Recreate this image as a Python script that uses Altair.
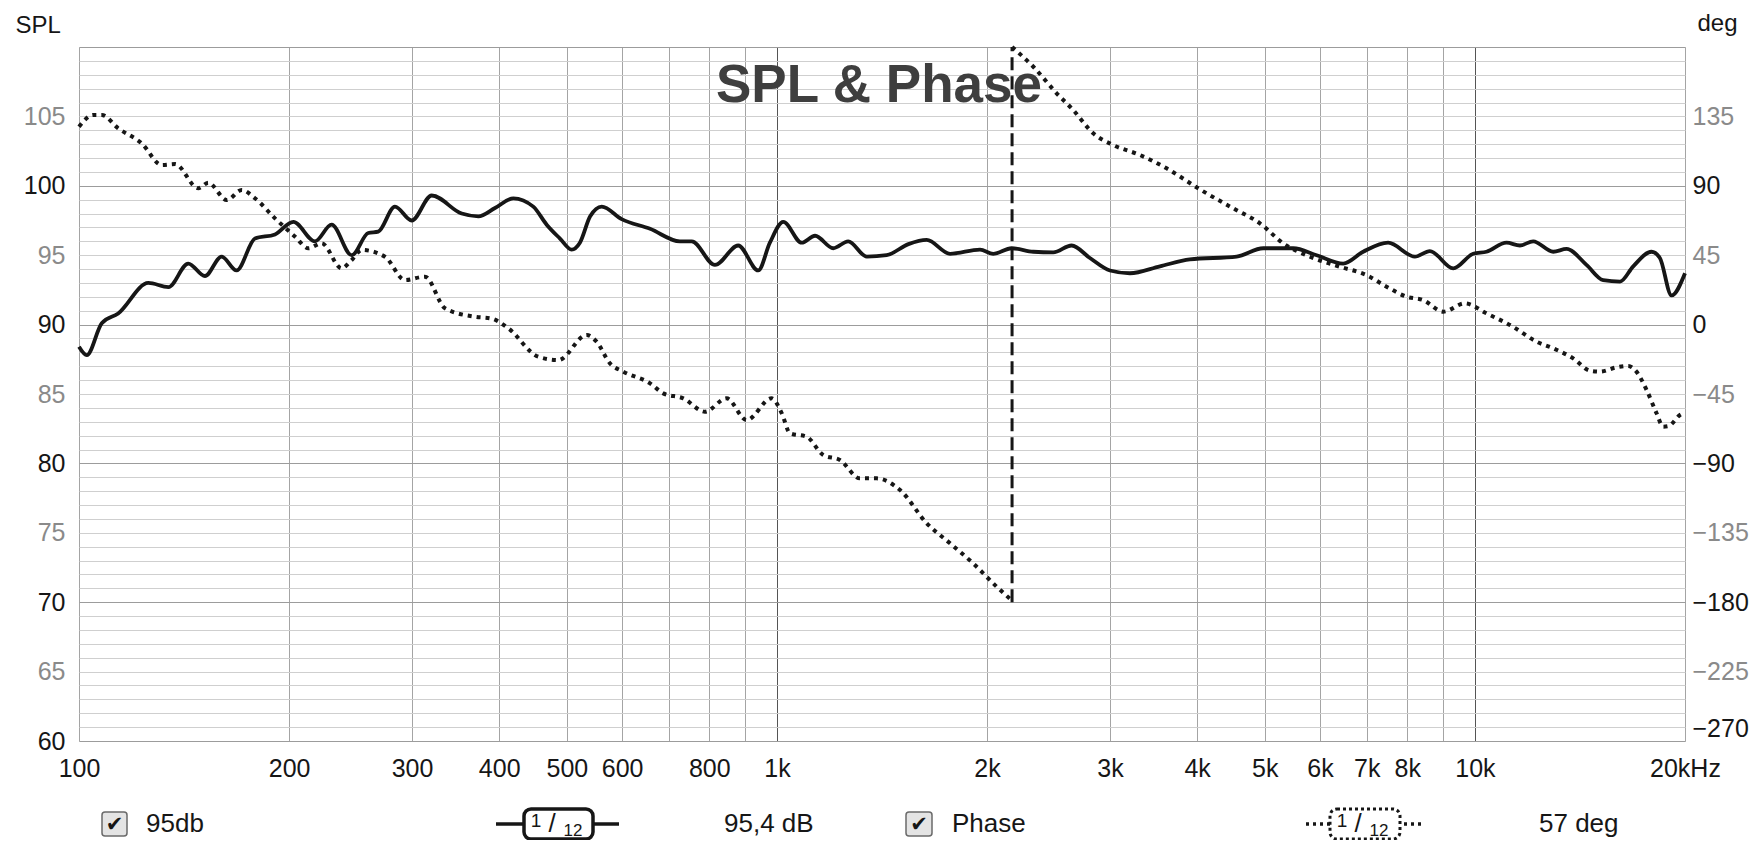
import altair as alt
import pandas as pd

# ---------------- data ----------------
spl_freq = [100, 102.6, 107.8, 113.8, 125.7, 134.3, 143.4, 151.5, 160.1, 168.2,
            178.7, 190.9, 202.8, 217.8, 230.1, 245.9, 259.7, 268.4, 283.6, 299.7,
            320.1, 353.4, 373.4, 394.5, 419.1, 447.6, 467.8, 488.8, 508, 522,
            540, 561, 599, 658, 726, 755, 815, 880, 940, 977,
            1021, 1085, 1134, 1204, 1265, 1345, 1436, 1543, 1639, 1770,
            1954, 2041, 2169, 2330, 2488, 2644, 2808, 3000, 3204, 3538,
            3905, 4556, 4975, 5492, 5933, 6477, 6918, 7510, 8203, 8620,
            9310, 9945, 10390, 11100, 11600, 12120, 12950, 13530, 14450, 15270,
            16140, 16860, 17910, 18410, 19130, 20000]
spl_db = [88.4, 87.8, 90.1, 90.8, 93.0, 92.7, 94.4, 93.5, 94.9, 93.9,
          96.2, 96.5, 97.4, 96.0, 97.2, 95.0, 96.6, 96.7, 98.5, 97.5,
          99.3, 98.0, 97.8, 98.4, 99.1, 98.5, 97.2, 96.2, 95.4, 95.9,
          97.8, 98.5, 97.6, 96.9, 96.0, 96.0, 94.3, 95.7, 93.9, 95.9,
          97.4, 95.9, 96.4, 95.5, 96.0, 94.9, 95.0, 95.8, 96.1, 95.1,
          95.4, 95.1, 95.5, 95.25, 95.2, 95.7, 94.8, 93.9, 93.7, 94.2,
          94.7, 94.9, 95.5, 95.5, 95.0, 94.4, 95.25, 95.9, 94.9, 95.3,
          94.05, 95.1, 95.25, 95.9, 95.7, 96.0, 95.25, 95.45, 94.3, 93.2,
          93.1, 94.2, 95.25, 94.8, 92.1, 93.7]

# phase before the wrap (degrees)
ph1_freq = [100, 104.8, 107.8, 113.8, 123, 131.4, 137.3, 148.2, 153.2, 162.8,
            171.1, 178.7, 190.9, 204, 213.1, 222.7, 237.8, 245.9, 254.1, 274.4,
            293.1, 313.1, 334.5, 369.3, 390.1, 412.1, 455, 486.1, 534, 551.6,
            576.4, 602.3, 658, 687.2, 734.2, 788.6, 847.1, 904.6, 982.6, 1016,
            1044, 1103, 1165, 1231, 1315, 1389, 1501, 1639, 1770, 1910,
            2064, 2172]
ph1_deg = [128.3, 135.9, 135.9, 127.3, 117.5, 103.5, 104.1, 88.4, 92, 80.8,
           87.3, 81.9, 68.9, 57, 49.5, 52.7, 36.5, 41.9, 48.4, 44,
           28.9, 31.1, 10.6, 5.1, 3.9, -2.4, -20.8, -23, -6.7, -11.1,
           -25.1, -30.5, -38.1, -44.6, -47.8, -56.5, -47.8, -61.9, -47.8, -57.5,
           -70.5, -72.7, -84.6, -87.8, -99.7, -99.7, -107.3, -128.8, -141.8, -154.8,
           -169.9, -179]
# phase after the wrap
ph2_freq = [2172, 2330, 2516, 2658, 2839, 3033, 3311, 3617, 4036, 4505,
            4920, 5314, 5803, 6407, 7000, 7472, 7980, 8430, 9010, 9676,
            10390, 11340, 12260, 12950, 13830, 14620, 15110, 15960, 16580, 17040,
            17620, 18210, 18610, 18940, 19670, 20000]
ph2_deg = [180, 167.2, 150, 139.1, 124, 116.4, 110, 101.3, 87.7, 75.4,
           65.7, 52.7, 44, 37.5, 32, 24.6, 18.1, 15.9, 8.4, 13.8,
           7.3, -1.4, -11.1, -15.4, -21.9, -29.9, -30.5, -27.7, -26.8, -30.5,
           -42.4, -57.5, -66.2, -65.8, -58.6, -57]
wrap_freq = 2172
wrap_range = [-180, 180]

x_grid = [100, 200, 300, 400, 500, 600, 700, 800, 900, 1000,
          2000, 3000, 4000, 5000, 6000, 7000, 8000, 9000, 10000, 20000]
x_label_vals = [100, 200, 300, 400, 500, 600, 800, 1000, 2000, 3000,
                4000, 5000, 6000, 7000, 8000, 10000, 20000]
x_label_txt = ["100", "200", "300", "400", "500", "600", "800", "1k", "2k", "3k",
               "4k", "5k", "6k", "7k", "8k", "10k", "20kHz"]
spl_ticks = list(range(60, 111))
phase_ticks = [-270, -225, -180, -135, -90, -45, 0, 45, 90, 135]

legend_texts = ["95db", "95,4 dB", "Phase", "57 deg"]
title_text = "SPL & Phase"

# ---------------- styling ----------------
W, H = 1606, 694
FONT = "Liberation Sans"
INK = "#161616"
GRAY_LBL = "#8a8a8a"

x_scale = alt.Scale(type="log", domain=[100, 20000], nice=False)
spl_scale = alt.Scale(domain=[60, 110], nice=False, zero=False)
ph_scale = alt.Scale(domain=[-270, 180], nice=False, zero=False)

vals_js = "[" + ",".join(str(v) for v in x_label_vals) + "]"
txt_js = "[" + ",".join("'" + t + "'" for t in x_label_txt) + "]"
x_axis = alt.Axis(
    values=x_grid, title=None, ticks=False, domain=False, grid=True,
    labelExpr=f"{txt_js}[indexof({vals_js}, datum.value)] || ''",
    gridColor={"condition": {"test": "datum.value === 1000 || datum.value === 10000",
                             "value": "#555555"}, "value": "#a4a4a4"},
    gridWidth=1, labelFontSize=25, labelFont=FONT, labelColor=INK,
    labelPadding=15, labelOverlap=False, labelFlush=False,
)
spl_axis = alt.Axis(
    orient="left", values=spl_ticks, ticks=False, domain=False, grid=True,
    labelExpr="datum.value % 5 === 0 && datum.value < 110 ? datum.label : ''",
    gridColor={"condition": {"test": "datum.value % 10 === 0", "value": "#9c9c9c"},
               "value": "#cfcfcf"},
    gridWidth=1,
    labelColor={"condition": {"test": "datum.value % 10 === 0", "value": INK},
                "value": GRAY_LBL},
    labelFontSize=25, labelFont=FONT, labelPadding=14, labelOverlap=False,
    title="SPL", titleAngle=0, titleAlign="left", titleBaseline="alphabetic",
    titleX=-64, titleY=-15, titleFontSize=24, titleFontWeight="normal",
    titleColor=INK, titleFont=FONT,
)
ph_axis = alt.Axis(
    orient="right", values=phase_ticks, ticks=False, domain=False, grid=False,
    labelColor={"condition": {"test": "datum.value % 90 === 0", "value": INK},
                "value": GRAY_LBL},
    labelFontSize=25, labelFont=FONT, labelPadding=7, labelOverlap=False,
    labelFlush=True,
    title="deg", titleAngle=0, titleAlign="left", titleBaseline="alphabetic",
    titleX=12, titleY=-17, titleFontSize=24, titleFontWeight="normal",
    titleColor=INK, titleFont=FONT,
)

spl_df = pd.DataFrame({"f": spl_freq, "spl": spl_db})
ph_df = pd.concat([
    pd.DataFrame({"f": ph1_freq, "deg": ph1_deg, "seg": "a"}),
    pd.DataFrame({"f": ph2_freq, "deg": ph2_deg, "seg": "b"}),
])
wrap_df = pd.DataFrame({"f": [wrap_freq], "lo": [wrap_range[0]], "hi": [wrap_range[1]]})
one = pd.DataFrame({"k": [0]})

X = alt.X("f:Q", scale=x_scale, axis=x_axis)

spl_line = alt.Chart(spl_df).mark_line(
    color=INK, strokeWidth=3.8, interpolate="monotone"
).encode(x=X, y=alt.Y("spl:Q", scale=spl_scale, axis=spl_axis))

ph_line = alt.Chart(ph_df).mark_line(
    color=INK, strokeWidth=4, strokeDash=[4, 5], interpolate="monotone"
).encode(x=X, y=alt.Y("deg:Q", scale=ph_scale, axis=ph_axis), detail="seg:N")

wrap_rule = alt.Chart(wrap_df).mark_rule(
    color=INK, strokeWidth=3, strokeDash=[13, 6]
).encode(x=X, y=alt.Y("lo:Q", scale=ph_scale, axis=ph_axis), y2="hi:Q")

phase_group = alt.layer(ph_line, wrap_rule)


def text_at(s, x, y, size=26, align="left", baseline="middle", color=INK,
            weight="normal", font=FONT):
    return alt.Chart(one).mark_text(
        text=s, align=align, baseline=baseline, fontSize=size, font=font,
        color=color, fontWeight=weight
    ).encode(x=alt.value(x), y=alt.value(y))


def rect_at(x1, x2, y1, y2, **kw):
    return alt.Chart(one).mark_rect(**kw).encode(
        x=alt.value(x1), x2=alt.value(x2), y=alt.value(y1), y2=alt.value(y2))


def hrule_at(x1, x2, y, **kw):
    return alt.Chart(one).mark_rule(**kw).encode(
        x=alt.value(x1), x2=alt.value(x2), y=alt.value(y))


title = text_at(title_text, W / 2 - 3, 55, size=53, align="center",
                baseline="alphabetic", color="#3e3e3e", weight="bold")

LY = 777
BH = 15
legend = [
    # SPL entry
    rect_at(23, 48, LY - 12, LY + 12, cornerRadius=3, fill="#e4e4e4",
            stroke="#6a6a6a", strokeWidth=1.5),
    text_at("✔", 35.5, LY + 1, size=21, align="center", font="DejaVu Sans"),
    text_at(legend_texts[0], 67, LY),
    hrule_at(417, 540, LY, color=INK, strokeWidth=3.5),
    rect_at(445, 514, LY - BH, LY + BH, cornerRadius=7, fill="white",
            stroke=INK, strokeWidth=3.5),
    text_at("1", 457, LY - 3, size=19, align="center"),
    text_at("/", 473, LY, size=26, align="center"),
    text_at("12", 494, LY + 7, size=17, align="center"),
    text_at(legend_texts[1], 645, LY),
    # Phase entry
    rect_at(827, 853, LY - 12, LY + 12, cornerRadius=3, fill="#e4e4e4",
            stroke="#6a6a6a", strokeWidth=1.5),
    text_at("✔", 840, LY + 1, size=21, align="center", font="DejaVu Sans"),
    text_at(legend_texts[2], 873, LY),
    hrule_at(1227, 1345, LY, color=INK, strokeWidth=3.5, strokeDash=[3, 4]),
    rect_at(1251, 1321, LY - BH, LY + BH, cornerRadius=7, fill="white",
            stroke=INK, strokeWidth=3, strokeDash=[3, 3]),
    text_at("1", 1263, LY - 3, size=19, align="center"),
    text_at("/", 1279, LY, size=26, align="center"),
    text_at("12", 1300, LY + 7, size=17, align="center"),
    text_at(legend_texts[3], 1460, LY),
]

chart = alt.layer(title, spl_line, phase_group, *legend).resolve_scale(
    y="independent"
).properties(
    width=W, height=H,
    autosize=alt.AutoSizeParams(type="none"),
    padding={"left": 71, "top": 39, "right": 69, "bottom": 99},
    background="white",
).configure_view(
    stroke="#8e8e8e", strokeWidth=3.5
).configure(font=FONT)

chart.save("out.html", embed_options={"renderer": "svg", "actions": False})
